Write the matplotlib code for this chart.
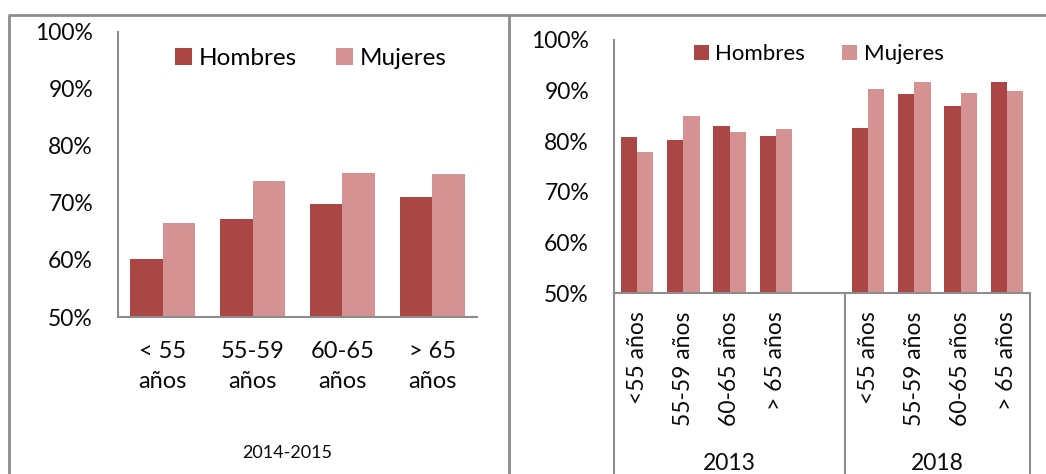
import numpy as np
import matplotlib
matplotlib.use("Agg")
import matplotlib.pyplot as plt
from matplotlib.lines import Line2D
from matplotlib.patches import Patch

Width = 1046
Height = 474

plt.rcParams["font.family"] = ["Lato", "DejaVu Sans"]

HombresColor = "#AA4744"
MujeresColor = "#D49392"
LineColor = "#8C8C8C"
TextColor = "#0A0A0A"

# panel izquierdo: 2014-2015
Left_Categories = ["< 55\naños", "55-59\naños", "60-65\naños", "> 65\naños"]
Left_Hombres = [60.1, 67.1, 69.8, 71.0]
Left_Mujeres = [66.5, 73.9, 75.3, 75.1]
Left_Period = "2014-2015"

# panel derecho: 2013 y 2018
Right_Categories = ["<55 años", "55-59 años", "60-65 años", "> 65 años"]
Hombres_2013 = [80.9, 80.3, 83.0, 81.1]
Mujeres_2013 = [77.9, 85.0, 81.9, 82.4]
Hombres_2018 = [82.6, 89.4, 87.0, 91.8]
Mujeres_2018 = [90.3, 91.8, 89.6, 89.9]
Right_Periods = ["2013", "2018"]

Y_Ticks = [50, 60, 70, 80, 90, 100]
Y_Labels = [f"{T}%" for T in Y_Ticks]


def Fx(X):
    return X / Width


def Fy(Y):
    return 1 - Y / Height


def Fig_Line(Fig, X0, Y0, X1, Y1, Lw=1.5):
    Fig.add_artist(Line2D([Fx(X0), Fx(X1)], [Fy(Y0), Fy(Y1)],
                          transform=Fig.transFigure, color=LineColor,
                          linewidth=Lw, solid_capstyle="butt"))


def Style_Axes(Ax):
    for Side in ["top", "right"]:
        Ax.spines[Side].set_visible(False)
    for Side in ["left", "bottom"]:
        Ax.spines[Side].set_color(LineColor)
        Ax.spines[Side].set_linewidth(1.5)
    Ax.set_ylim(50, 100)
    Ax.set_yticks(Y_Ticks)
    Ax.set_yticklabels(Y_Labels)
    Ax.tick_params(axis="y", length=0, pad=18, labelsize=16.5, labelcolor=TextColor)
    Ax.tick_params(axis="x", length=0)


def Legend_Handles():
    return [Patch(facecolor=HombresColor, label="Hombres"),
            Patch(facecolor=MujeresColor, label="Mujeres")]


def Draw_Left_Panel(Fig):
    Ax = Fig.add_axes([Fx(118), Fy(317), Fx(477 - 118), (317 - 31.5) / Height])
    Style_Axes(Ax)
    X = np.arange(len(Left_Categories))
    Bw = 0.362
    Ax.bar(X - Bw / 2, Left_Hombres, Bw, color=HombresColor)
    Ax.bar(X + Bw / 2, Left_Mujeres, Bw, color=MujeresColor)
    Ax.set_xlim(-0.5, len(Left_Categories) - 0.5)
    Ax.set_xticks(X)
    Ax.set_xticklabels(Left_Categories, fontsize=17, linespacing=1.55, color=TextColor)
    Ax.tick_params(axis="x", pad=17)
    Ax.legend(handles=Legend_Handles(), ncol=2, frameon=False, fontsize=17.5,
              loc="center", bbox_to_anchor=(Fx(311), Fy(58.5)),
              bbox_transform=Fig.transFigure, handlelength=0.68, handleheight=0.68,
              handletextpad=0.3, columnspacing=1.6, borderaxespad=0, borderpad=0)
    Fig.text(Fx(287), Fy(453), Left_Period, fontsize=13, ha="center", va="center",
             color=TextColor)


def Draw_Right_Panel(Fig):
    X0, X1, Top, Bottom = 614, 1030, 40, 293.3
    Ax = Fig.add_axes([Fx(X0), Fy(Bottom), Fx(X1 - X0), (Bottom - Top) / Height])
    Style_Axes(Ax)
    N = len(Right_Categories)
    Pos_2013 = np.arange(N)
    Pos_2018 = np.arange(N) + N + 1
    Bw = 0.35
    Ax.bar(Pos_2013 - Bw / 2, Hombres_2013, Bw, color=HombresColor)
    Ax.bar(Pos_2013 + Bw / 2, Mujeres_2013, Bw, color=MujeresColor)
    Ax.bar(Pos_2018 - Bw / 2, Hombres_2018, Bw, color=HombresColor)
    Ax.bar(Pos_2018 + Bw / 2, Mujeres_2018, Bw, color=MujeresColor)
    Ax.set_xlim(-0.5, 2 * N + 0.5)
    Ax.set_xticks(np.concatenate([Pos_2013, Pos_2018]))
    Ax.set_xticklabels(Right_Categories * 2, rotation=90, fontsize=16.5, color=TextColor,
                       va="top", ha="center")
    Ax.tick_params(axis="x", pad=13)
    Ax.legend(handles=Legend_Handles(), ncol=2, frameon=False, fontsize=16,
              loc="center", bbox_to_anchor=(Fx(818.5), Fy(54)),
              bbox_transform=Fig.transFigure, handlelength=0.68, handleheight=0.68,
              handletextpad=0.3, columnspacing=1.65, borderaxespad=0, borderpad=0)

    # separadores de grupos bajo el eje
    Slot = (X1 - X0) / (2 * N + 1)
    Mid = X0 + Slot * (N + 1)
    for Xs in [X0, Mid, X1]:
        Fig_Line(Fig, Xs, Bottom, Xs, Height)
    Fig.text(Fx((X0 + Mid) / 2), Fy(464), Right_Periods[0], fontsize=16.5,
             ha="center", va="center", color=TextColor)
    Fig.text(Fx((Mid + X1) / 2), Fy(464), Right_Periods[1], fontsize=16.5,
             ha="center", va="center", color=TextColor)


Fig = plt.figure(figsize=(Width / 100, Height / 100), dpi=100)
Fig.patch.set_facecolor("white")

# marco de la tabla
Fig_Line(Fig, 8, 15, Width, 15, Lw=2)
Fig_Line(Fig, 9, 15, 9, Height, Lw=2)
Fig_Line(Fig, 509, 15, 509, Height, Lw=2)

Draw_Left_Panel(Fig)
Draw_Right_Panel(Fig)

Fig.savefig("out.png", dpi=100, facecolor="white")
